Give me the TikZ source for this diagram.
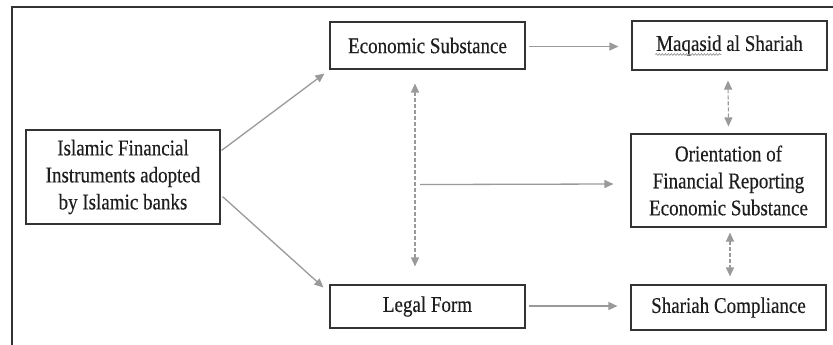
\documentclass[tikz,border=0pt]{standalone}
\usepackage{fontspec}
\setmainfont{Liberation Serif}
\newfontfamily\txtfont{Liberation Serif}[FakeBold=0.35]
\usetikzlibrary{arrows.meta,calc,decorations.pathmorphing}
\definecolor{boxline}{HTML}{333333}
\definecolor{arrowgray}{HTML}{9A9A9A}
\definecolor{txt}{HTML}{1E1E1E}
\newcommand{\boxtext}[1]{\scalebox{1}[1.18]{\parbox{190pt}{\centering\txtfont\fontsize{19}{22.9}\selectfont #1}}}
\begin{document}
\begin{tikzpicture}[x=1pt,y=-1pt,
  box/.style={draw=boxline,line width=1.1pt,inner sep=0pt,align=center,
    text=txt},
  conn/.style={draw=arrowgray,line width=1.3pt,-{Triangle[length=9pt,width=8pt]}},
  dconn/.style={draw=arrowgray,line width=1.1pt,dash pattern=on 4pt off 2pt,
    {Triangle[length=9pt,width=8pt]}-{Triangle[length=9pt,width=8pt]}}]
\useasboundingbox (0,0) rectangle (833,345);
\fill[white] (0,0) rectangle (833,345);
% outer frame
\draw[boxline,line width=1.4pt] (12,350) -- (12,7) -- (833,7);
% nodes
\node[box,minimum width=194pt,minimum height=94pt] (I) at (123,177)
  {\boxtext{Islamic Financial\\Instruments adopted\\by Islamic banks}};
\node[box,minimum width=195pt,minimum height=47pt] (E) at (427.5,45.5)
  {\boxtext{Economic Substance}};
\node[box,minimum width=195pt,minimum height=43pt] (L) at (427.5,306.5)
  {\boxtext{Legal Form}};
\node[box,minimum width=195pt,minimum height=49pt] (M) at (729.5,45.5)
  {\boxtext{Maqasid al Shariah}};
\node[box,minimum width=195pt,minimum height=93pt] (O) at (728.5,180.5)
  {\boxtext{Orientation of\\Financial Reporting\\Economic Substance}};
\node[box,minimum width=195pt,minimum height=45pt] (S) at (728.5,307.5)
  {\boxtext{Shariah Compliance}};
% spell-check squiggle under Maqasid
\coordinate (sqa) at ($(M.west)+(24,9)$);
\coordinate (sqb) at ($(M.west)+(90,9)$);
\draw[arrowgray,line width=0.7pt,decorate,decoration={snake,amplitude=0.9pt,segment length=3pt}] (sqa) -- (sqb);
% connectors
\draw[conn] ($(I.north east)+(1,21)$) -- ($(E.south west)+(-5,4)$);
\draw[conn] ($(I.south east)+(2,-28)$) -- ($(L.north west)+(-6,3)$);
\draw[conn] ($(E.east)+(3,1)$) -- ($(M.west)+(-13,1)$);
\draw[conn] ($(L.east)+(3,-0.5)$) -- ($(S.west)+(-13,-1.5)$);
\coordinate (vtop) at ($(E.south)+(-12.5,14)$);
\coordinate (vbot) at ($(L.north)+(-12.5,-18)$);
\draw[dconn] (vtop) -- (vbot);
\coordinate (hstart) at ($(E.south)+(-7.5,115)$);
\draw[conn] (hstart) -- ($(O.west)+(-17,3.5)$);
\draw[dconn] ($(M.south)+(-1.5,10)$) -- ($(O.north)+(0,-7)$);
\draw[dconn] ($(O.south)+(1.5,5)$) -- ($(S.north)+(1.5,-8)$);
\end{tikzpicture}
\end{document}
